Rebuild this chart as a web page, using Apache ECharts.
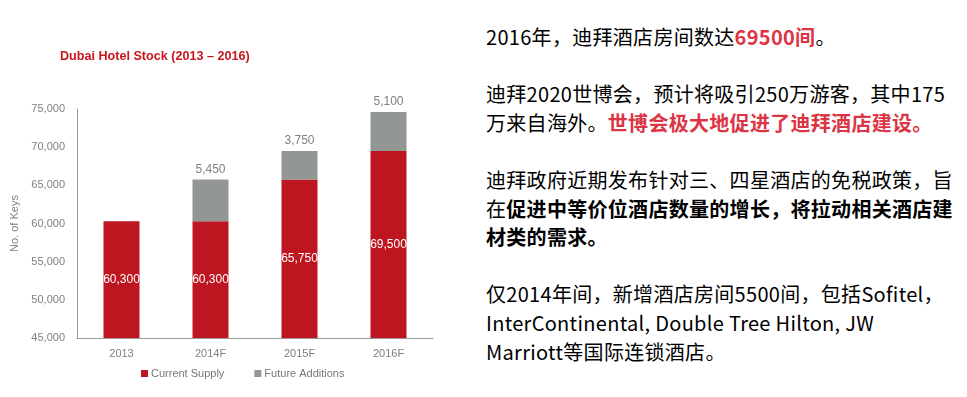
<!DOCTYPE html>
<html>
<head>
<meta charset="utf-8">
<script src="https://cdn.jsdelivr.net/npm/echarts@6/dist/echarts.min.js"></script>
<style>
  html, body { margin: 0; padding: 0; background: #fff; }
  #chart { position: absolute; left: 0; top: 0; width: 470px; height: 397px; }
  #notes {
    position: absolute; left: 486px; top: 23px; width: 480px;
    font-family: "Noto Sans CJK SC", "Microsoft YaHei", sans-serif;
    font-size: 20px; line-height: 28.6px; color: #000; white-space: nowrap;
    letter-spacing: 0.3px;
  }
  #notes p { margin: 0 0 28.6px 0; }
  #notes .red { color: #dc3545; font-weight: bold; }
  #notes b { font-weight: bold; }
</style>
</head>
<body>
<div id="chart"></div>
<div id="notes">
  <p>2016年，迪拜酒店房间数达<span class="red">69500间</span>。</p>
  <p>迪拜2020世博会，预计将吸引250万游客，其中175<br>万来自海外。<span class="red">世博会极大地促进了迪拜酒店建设。</span></p>
  <p>迪拜政府近期发布针对三、四星酒店的免税政策，旨<br>在<b>促进中等价位酒店数量的增长，将拉动相关酒店建<br>材类的需求。</b></p>
  <p>仅2014年间，新增酒店房间5500间，包括Sofitel，<br>InterContinental, Double Tree Hilton, JW<br>Marriott等国际连锁酒店。</p>
</div>
<script>
  const years = ['2013', '2014F', '2015F', '2016F'];
  const currentSupply = [60300, 60300, 65750, 69500];
  const futureAdditions = [0, 5450, 3750, 5100];
  const yTicks = { min: 45000, max: 75000, step: 5000 };

  const fmt = v => v.toLocaleString('en-US');
  const font = '"Liberation Sans", Arial, sans-serif';

  const chart = echarts.init(document.getElementById('chart'));
  chart.setOption({
    animation: false,
    textStyle: { fontFamily: font },
    title: {
      text: 'Dubai Hotel Stock (2013 – 2016)',
      left: 55, top: 45,
      textStyle: { color: '#c8161d', fontSize: 12.6, fontWeight: 'bold', fontFamily: font }
    },
    grid: { left: 77, right: 37, top: 109, bottom: 59 },
    legend: {
      left: 136, top: 363,
      icon: 'rect', itemWidth: 7, itemHeight: 7, itemGap: 30,
      textStyle: { color: '#777', fontSize: 11, fontFamily: font, padding: [0, 0, 0, -2] },
      data: ['Current Supply', 'Future Additions']
    },
    xAxis: {
      type: 'category',
      data: years,
      axisLine: { lineStyle: { color: '#9a9a9a' } },
      axisTick: { show: false },
      axisLabel: { color: '#808080', fontSize: 11, margin: 10 }
    },
    yAxis: {
      type: 'value',
      min: yTicks.min, max: yTicks.max, interval: yTicks.step,
      name: 'No. of Keys',
      nameLocation: 'middle',
      nameRotate: 90,
      nameGap: 52,
      nameTextStyle: { color: '#808080', fontSize: 11 },
      axisLine: { show: true, lineStyle: { color: '#9a9a9a' } },
      axisTick: { show: false },
      splitLine: { show: false },
      axisLabel: { color: '#808080', fontSize: 11, margin: 12, formatter: fmt }
    },
    series: [
      {
        name: 'Current Supply',
        type: 'bar',
        stack: 'keys',
        barWidth: 36,
        data: currentSupply,
        itemStyle: { color: '#be1620' },
        label: {
          show: true, position: 'inside', color: '#fff', fontSize: 12,
          formatter: p => fmt(p.value)
        }
      },
      {
        name: 'Future Additions',
        type: 'bar',
        stack: 'keys',
        barWidth: 36,
        data: futureAdditions,
        itemStyle: { color: '#939793' },
        label: {
          show: true, position: 'top', color: '#808080', fontSize: 12, distance: 4,
          formatter: p => p.value ? fmt(p.value) : ''
        }
      }
    ]
  });
</script>
</body>
</html>
